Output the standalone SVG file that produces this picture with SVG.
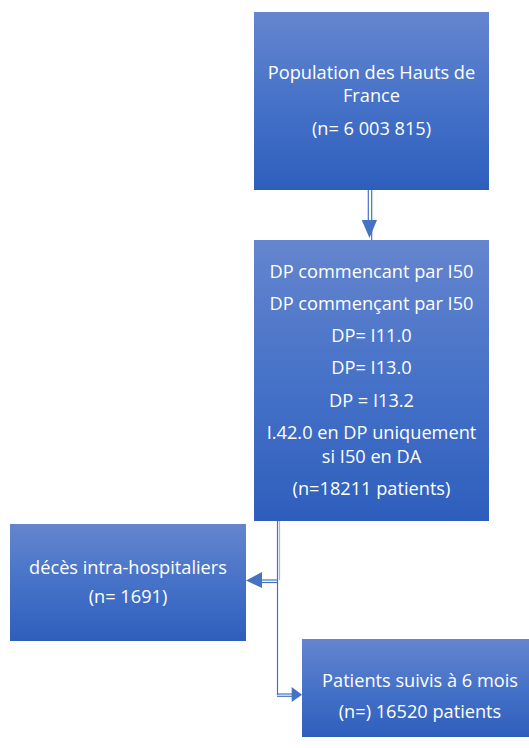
<svg xmlns="http://www.w3.org/2000/svg" width="529" height="748" viewBox="0 0 529 748">
<defs>
<linearGradient id="g" x1="0" y1="0" x2="0" y2="1">
<stop offset="0" stop-color="#6585ce"/>
<stop offset="0.5" stop-color="#4672c8"/>
<stop offset="1" stop-color="#2e5ebd"/>
</linearGradient>
<style>
.box{fill:url(#g);}
.t{font-family:"Open Sans","Liberation Sans",sans-serif;font-size:18.2px;fill:#ffffff;text-anchor:middle;}
.c{fill:none;stroke:#4472c4;stroke-width:1.2;}
.ah{fill:#4472c4;}
</style>
</defs>
<rect width="529" height="748" fill="#ffffff"/>
<g id="connectors">
<line class="c" x1="368.3" y1="190" x2="368.3" y2="222"/>
<line class="c" x1="371.7" y1="190" x2="371.7" y2="240"/>
<path class="ah" d="M361.7,220 L377,220 L369.5,238 Z"/>
<line class="c" x1="277.5" y1="521" x2="277.5" y2="695"/>
<line class="c" x1="279.5" y1="521" x2="279.5" y2="580" stroke-opacity="0.5"/>
<line class="c" x1="277.5" y1="580" x2="260" y2="580"/>
<line class="c" x1="277.5" y1="582.5" x2="260" y2="582.5"/>
<path class="ah" d="M262,572 L262,588 L246,580.5 Z"/>
<line class="c" x1="277" y1="694" x2="293" y2="694"/>
<line class="c" x1="277" y1="696.3" x2="293" y2="696.3"/>
<path class="ah" d="M291.7,687 L302,694.8 L291.7,702 Z"/>
</g>
<g id="n1">
<rect class="box" x="254" y="12" width="235" height="178"/>
<text class="t" x="371.5" y="79">Population des Hauts de</text>
<text class="t" x="371.5" y="102">France</text>
<text class="t" x="371.5" y="135">(n= 6 003 815)</text>
</g>
<g id="n2">
<rect class="box" x="254" y="240" width="235" height="281"/>
<text class="t" x="371.5" y="278">DP commencant par I50</text>
<text class="t" x="371.5" y="310">DP commençant par I50</text>
<text class="t" x="371.5" y="342">DP= I11.0</text>
<text class="t" x="371.5" y="374">DP= I13.0</text>
<text class="t" x="371.5" y="407">DP = I13.2</text>
<text class="t" x="371.5" y="439">I.42.0 en DP uniquement</text>
<text class="t" x="371.5" y="463">si I50 en DA</text>
<text class="t" x="371.5" y="495">(n=18211 patients)</text>
</g>
<g id="n3">
<rect class="box" x="10" y="524" width="236" height="117"/>
<text class="t" x="128" y="574">décès intra-hospitaliers</text>
<text class="t" x="128" y="603">(n= 1691)</text>
</g>
<g id="n4">
<rect class="box" x="302" y="639" width="227" height="98"/>
<text class="t" x="420" y="687">Patients suivis à 6 mois</text>
<text class="t" x="420" y="718">(n=) 16520 patients</text>
</g>
</svg>
